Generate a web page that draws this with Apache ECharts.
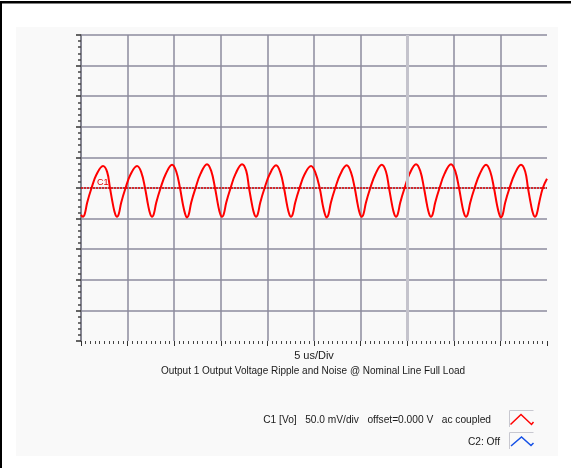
<!DOCTYPE html>
<html><head><meta charset="utf-8">
<script src="https://cdn.jsdelivr.net/npm/echarts@6/dist/echarts.min.js"></script>
<style>html,body{margin:0;padding:0;background:#fff}#c{width:571px;height:468px}</style>
</head><body><div id="c"></div>
<script>
// Time axis (us), 5 us/div, 10 divisions
const xMinUs = 0, xMaxUs = 50, xDivUs = 5;
// Voltage axis (mV), 50 mV/div, 10 divisions
const yMinMv = -250, yMaxMv = 250, yDivMv = 50;

// C1 [Vo] trace
const timeUs = [0,
0.21,0.41,0.66,1.13,1.66,2.36,2.81,3.11,3.44,3.66,
3.86,4.06,4.31,4.78,5.31,6.01,6.46,6.87,7.20,7.42,
7.62,7.82,8.07,8.54,9.07,9.77,10.22,10.62,10.95,11.17,
11.37,11.57,11.82,12.29,12.82,13.52,13.97,14.38,14.71,14.93,
15.13,15.33,15.58,16.05,16.58,17.28,17.73,18.03,18.36,18.58,
18.78,18.98,19.23,19.70,20.23,20.93,21.38,21.78,22.11,22.33,
22.53,22.73,22.98,23.45,23.98,24.68,25.13,25.61,25.94,26.16,
26.36,26.56,26.81,27.28,27.81,28.51,28.96,29.37,29.70,29.92,
30.12,30.32,30.57,31.04,31.57,32.27,32.72,33.05,33.38,33.60,
33.80,34.00,34.25,34.72,35.25,35.95,36.40,36.80,37.13,37.35,
37.55,37.75,38.00,38.47,39.00,39.70,40.15,40.56,40.89,41.11,
41.31,41.51,41.76,42.23,42.76,43.46,43.91,44.31,44.64,44.86,
45.06,45.26,45.51,45.98,46.51,47.21,47.66,47.96,48.29,48.51,
48.71,48.91,49.16,49.55,50.00];
const c1mV = [-44,
-47,-42,-24,0,22,36,26,0,-28,-42,
-47,-42,-24,0,22,36,26,0,-28,-42,
-47,-42,-24,0,22,38,27,0,-28,-42,
-48,-43,-24,0,23,39,28,0,-28,-42,
-47,-42,-24,0,23,39,28,0,-28,-42,
-47,-42,-24,0,22,37,26,0,-28,-42,
-47,-42,-24,0,22,36,26,0,-28,-42,
-48,-43,-24,0,22,37,26,0,-28,-42,
-47,-42,-24,0,22,38,27,0,-28,-42,
-47,-42,-24,0,23,39,28,0,-28,-42,
-47,-42,-24,0,23,39,28,0,-28,-42,
-47,-42,-24,0,22,38,27,0,-28,-42,
-48,-43,-24,0,22,38,27,0,-28,-42,
-47,-42,-24,0,15];
const c1OffsetMv = 0;
const markerUs = 35;

const xAxisTitle = '5 us/Div';
const chartTitle = 'Output 1 Output Voltage Ripple and Noise @ Nominal Line Full Load';
const legendC1 = 'C1 [Vo]   50.0 mV/div   offset=0.000 V   ac coupled';
const legendC2 = 'C2: Off';

const FONT = '"Liberation Sans", Arial, sans-serif';
const chart = echarts.init(document.getElementById('c'), null, {renderer:'canvas'});
const grid = '#8c8b9e';

chart.setOption({
  animation: false,
  backgroundColor: '#ffffff',
  grid: {left: 81, top: 35, width: 466, height: 306, show: true, backgroundColor: '#f9f9f9', borderWidth: 0},
  xAxis: {
    type: 'value', min: xMinUs, max: xMaxUs, interval: xDivUs,
    axisLine: {show: false, onZero: false},
    axisTick: {show: true, inside: false, length: 5, lineStyle: {color: '#333', width: 1}},
    minorTick: {show: true, splitNumber: 10, length: 3, lineStyle: {color: '#444', width: 1}},
    axisLabel: {show: false},
    splitLine: {show: true, showMinLine: true, showMaxLine: false, lineStyle: {color: grid, width: 1.5}},
    minorSplitLine: {show: false}
  },
  yAxis: {
    type: 'value', min: yMinMv, max: yMaxMv, interval: yDivMv,
    axisLine: {show: true, onZero: false, lineStyle: {color: '#7a7a86', width: 1.5}},
    axisTick: {show: true, length: 5, lineStyle: {color: '#333', width: 1.5}},
    minorTick: {show: true, splitNumber: 5, length: 3, lineStyle: {color: '#444', width: 1.5}},
    axisLabel: {show: false},
    splitLine: {show: true, showMinLine: false, showMaxLine: true, lineStyle: {color: grid, width: 1.5}}
  },
  graphic: [
    {type: 'rect', z: -10, shape: {x: 16, y: 27, width: 542, height: 429}, style: {fill: '#f9f9f9'}},
    {type: 'rect', z: 10, shape: {x: 0, y: 1, width: 571, height: 2.5}, style: {fill: '#000'}},
    {type: 'rect', z: 10, shape: {x: 0, y: 1, width: 2, height: 467}, style: {fill: '#000'}},
    {type: 'text', x: 314, y: 356, style: {text: xAxisTitle, font: '11px ' + FONT, fill: '#1a1a1a', textAlign: 'center', textVerticalAlign: 'middle'}},
    {type: 'text', x: 313, y: 371, style: {text: chartTitle, font: '10px ' + FONT, fill: '#1a1a1a', textAlign: 'center', textVerticalAlign: 'middle'}},
    {type: 'text', x: 491, y: 420, style: {text: legendC1, font: '10.2px ' + FONT, fill: '#1a1a1a', textAlign: 'right', textVerticalAlign: 'middle', whiteSpace: 'pre'}},
    {type: 'text', x: 500, y: 442, style: {text: legendC2, font: '10.2px ' + FONT, fill: '#1a1a1a', textAlign: 'right', textVerticalAlign: 'middle'}},
    {type: 'polyline', shape: {points: [[533.5, 410.5], [509.5, 410.5], [509.5, 427]]}, style: {stroke: '#c8c8d0', lineWidth: 1, fill: null}},
    {type: 'polyline', shape: {points: [[510.5, 424.5], [521, 414.5], [531.5, 424.5], [533.5, 422]]}, style: {stroke: '#ff0000', lineWidth: 1.5, fill: null}},
    {type: 'polyline', shape: {points: [[533.5, 432.5], [509.5, 432.5], [509.5, 449]]}, style: {stroke: '#c8c8d0', lineWidth: 1, fill: null}},
    {type: 'polyline', shape: {points: [[511, 446], [521.5, 437], [531, 445.5], [533.5, 443]]}, style: {stroke: '#1450e6', lineWidth: 1.5, fill: null}}
  ],
  series: [
    {
      type: 'line', z: 1, data: [], silent: true,
      markLine: {
        silent: true, symbol: 'none', animation: false,
        lineStyle: {color: '#c4c3cc', width: 3, type: 'solid'},
        label: {show: false},
        data: [{xAxis: markerUs}]
      }
    },
    {
      type: 'line', z: 3,
      data: timeUs.map((t, i) => [t, c1mV[i]]),
      showSymbol: false, smooth: 0.4,
      lineStyle: {color: '#ff0000', width: 2},
      markLine: {
        silent: true, symbol: 'none', animation: false,
        lineStyle: {color: '#e00000', width: 1.5, type: [2, 1]},
        label: {show: true, position: 'insideStartTop', formatter: 'C1', color: '#e00000', fontSize: 9, fontFamily: FONT, distance: [16, 1]},
        data: [{yAxis: c1OffsetMv}]
      }
    }
  ]
});
</script></body></html>
